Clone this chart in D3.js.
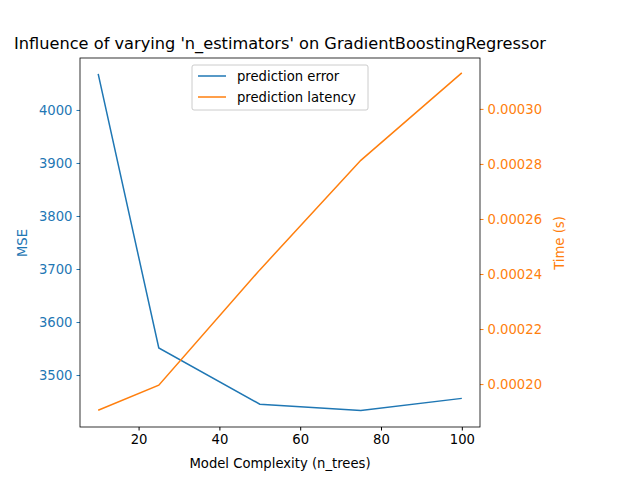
<!DOCTYPE html>
<html><head><meta charset="utf-8">
<script src="https://cdn.jsdelivr.net/npm/d3@7"></script>
<style>body{margin:0;background:#fff}text{font-family:"DejaVu Sans",sans-serif}</style>
</head><body><svg id="c" width="640" height="480"></svg>
<script>
const nTrees=[10,25,50,75,100];
const mse=[4068,3551,3445,3433,3456];
const latency=[0.0001905,0.0001996,0.0002415,0.0002813,0.0003131];
const xTicks=[20,40,60,80,100];
const mseTicks=[3500,3600,3700,3800,3900,4000];
const timeTicks=[0.00020,0.00022,0.00024,0.00026,0.00028,0.00030];
const blue="#1f77b4",orange="#ff7f0e";
const L=80,R=480,T=58,B=427;
const FS=13.2;
const svg=d3.select("#c");
const x=d3.scaleLinear().domain([5.5,104.5]).range([L,R]);
const y1=d3.scaleLinear().domain([3402,4098]).range([B,T]);
const y2=d3.scaleLinear().domain([0.0001844,0.0003185]).range([B,T]);
const ax=svg.append("g").attr("transform",`translate(0,${B})`).call(d3.axisBottom(x).tickValues(xTicks).tickSizeOuter(0).tickSize(3.5).tickPadding(4));
const al=svg.append("g").attr("transform",`translate(${L},0)`).call(d3.axisLeft(y1).tickValues(mseTicks).tickFormat(d3.format("d")).tickSizeOuter(0).tickSize(3.5).tickPadding(4));
const ar=svg.append("g").attr("transform",`translate(${R},0)`).call(d3.axisRight(y2).tickValues(timeTicks).tickFormat(d3.format(".5f")).tickSizeOuter(0).tickSize(3.5).tickPadding(4));
[ax,al,ar].forEach(g=>{g.selectAll("text").attr("font-size",FS).attr("font-family","DejaVu Sans");g.select(".domain").remove();});
al.selectAll("text").attr("fill",blue);al.selectAll("line").attr("stroke",blue);
ar.selectAll("text").attr("fill",orange);ar.selectAll("line").attr("stroke",orange);
svg.append("rect").attr("x",L).attr("y",T).attr("width",R-L).attr("height",B-T).attr("fill","none").attr("stroke","#000").attr("stroke-width",0.8);
const line1=d3.line().x((d,i)=>x(nTrees[i])).y(d=>y1(d));
const line2=d3.line().x((d,i)=>x(nTrees[i])).y(d=>y2(d));
svg.append("path").attr("d",line1(mse)).attr("fill","none").attr("stroke",blue).attr("stroke-width",1.5);
svg.append("path").attr("d",line2(latency)).attr("fill","none").attr("stroke",orange).attr("stroke-width",1.5);
svg.append("text").attr("x",280).attr("y",49).attr("text-anchor","middle").attr("font-size",16.2).text("Influence of varying 'n_estimators' on GradientBoostingRegressor");
svg.append("text").attr("x",280).attr("y",468).attr("text-anchor","middle").attr("font-size",FS).text("Model Complexity (n_trees)");
svg.append("text").attr("transform","translate(27,243) rotate(-90)").attr("text-anchor","middle").attr("font-size",FS).attr("fill",blue).text("MSE");
svg.append("text").attr("transform","translate(564,243) rotate(-90)").attr("text-anchor","middle").attr("font-size",FS).attr("fill",orange).text("Time (s)");
const lg=svg.append("g");
lg.append("rect").attr("x",192).attr("y",65).attr("width",176).attr("height",45).attr("rx",2).attr("fill","#fff").attr("fill-opacity",0.8).attr("stroke","#ccc");
[["prediction error",blue],["prediction latency",orange]].forEach((d,i)=>{
 const yy=76+i*21;
 lg.append("line").attr("x1",198).attr("x2",226).attr("y1",yy).attr("y2",yy).attr("stroke",d[1]).attr("stroke-width",1.5);
 lg.append("text").attr("x",237).attr("y",yy+4.5).attr("font-size",FS).text(d[0]);
});
</script></body></html>
